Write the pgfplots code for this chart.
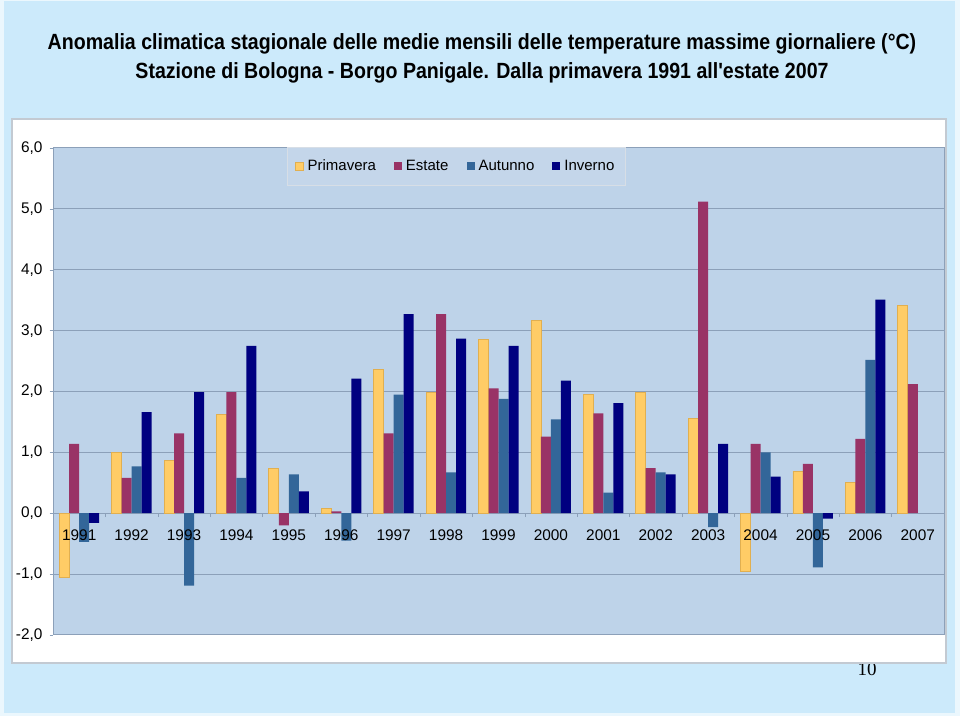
\documentclass[border=0pt]{standalone}
\usepackage{pgfplots}
\usepackage{pgfplotstable}
\pgfplotsset{compat=1.18}
\usepackage{fontspec}
\setmainfont{Liberation Sans}
\newfontfamily\titlefont[FakeStretch=0.89]{Liberation Sans}
\newfontfamily\pagefont{Liberation Serif}

\definecolor{outerbg}{RGB}{204,234,251}
\definecolor{plotbg}{RGB}{190,211,233}
\definecolor{gridc}{RGB}{140,160,185}
\definecolor{chartborder}{RGB}{195,202,210}
\definecolor{legendbg}{RGB}{196,214,234}
\definecolor{legendborder}{RGB}{215,222,230}
\definecolor{primc}{RGB}{255,204,102}
\definecolor{primborder}{RGB}{225,175,80}
\definecolor{estc}{RGB}{153,51,102}
\definecolor{autc}{RGB}{51,102,153}
\definecolor{invc}{RGB}{0,0,128}

\pgfplotsset{
  frame geom/.style={
    at={(26.5pt,40.5pt)}, anchor=south west,
    scale only axis, width=445.5pt, height=243.5pt,
    xmin=-0.5, xmax=16.5, ymin=-2, ymax=6,
  },
}

% anomalies, one row per year (0 = 1991)
\pgfplotstableread{
yr prim est aut inv
0 -1.05 1.14 -0.47 -0.16
1 1.00 0.58 0.77 1.66
2 0.86 1.31 -1.19 1.99
3 1.62 1.99 0.58 2.75
4 0.74 -0.20 0.64 0.36
5 0.08 0.03 -0.45 2.21
6 2.36 1.31 1.95 3.27
7 1.99 3.27 0.67 2.87
8 2.85 2.05 1.88 2.75
9 3.16 1.26 1.54 2.18
10 1.95 1.64 0.34 1.81
11 1.98 0.74 0.67 0.64
12 1.55 5.12 -0.23 1.14
13 -0.96 1.14 1.00 0.60
14 0.69 0.81 -0.89 -0.09
15 0.50 1.22 2.52 3.51
16 3.42 2.12 nan nan
}\datatable

\begin{document}
\begin{tikzpicture}
\path[use as bounding box] (0pt,0pt) rectangle (480pt,358pt);
\fill[white!60!outerbg] (0pt,0pt) rectangle (480pt,358pt);
\fill[outerbg] (2pt,1.5pt) rectangle (477.5pt,357.5pt);
\node[font=\pagefont\fontsize{9.5}{11}\selectfont] at (433.5pt,23.5pt) {10};
\filldraw[fill=white, draw=chartborder, line width=0.6pt] (6pt,26.5pt) rectangle (473pt,298.5pt);

\node[anchor=base, font=\titlefont\bfseries\fontsize{11}{13}\selectfont] at (241pt,333pt)
  {Anomalia climatica stagionale delle medie mensili delle temperature massime giornaliere (°C)};
\node[anchor=base, font=\titlefont\bfseries\fontsize{11}{13}\selectfont] at (241pt,318.5pt)
  {Stazione di Bologna - Borgo Panigale. Dalla primavera 1991 all'estate 2007};

\begin{axis}[
  frame geom,
  ybar=0pt, bar width=5pt,
  axis x line=middle, axis y line=left,
  axis line style={draw=gridc, line width=0.5pt, -},
  axis background/.style={fill=plotbg, draw=gridc, line width=0.5pt},
  ytick={-2,-1,...,6},
  xtick={0,...,16}, xticklabels={},
  minor xtick={-0.5,0.5,...,16.5},
  tick align=outside,
  major tick length=1.7pt, minor tick length=2pt,
  major x tick style={draw=none},
  minor x tick style={draw=gridc},
  ytick style={draw=gridc},
  ymajorgrids, grid style={draw=gridc, line width=0.5pt},
  tick label style={font=\fontsize{7.7}{9}\selectfont},
  /pgf/number format/assume math mode=true,
  y tick label style={/pgf/number format/fixed, /pgf/number format/fixed zerofill,
    /pgf/number format/precision=1, /pgf/number format/use comma},
  legend style={at={(0.453,1.002)}, anchor=north, legend columns=-1,
    draw=legendborder, fill=legendbg, font=\fontsize{7.5}{9}\selectfont,
    inner xsep=3.5pt, inner ysep=4pt,
    /tikz/every even column/.append style={column sep=7pt}},
  legend image code/.code={\path[#1] (0pt,-2pt) rectangle (4pt,2pt);},
]
\addplot[fill=primc, draw=primborder, line width=0.4pt] table[x=yr, y=prim] {\datatable};
\addplot[fill=estc, draw=none] table[x=yr, y=est] {\datatable};
\addplot[fill=autc, draw=none] table[x=yr, y=aut] {\datatable};
\addplot[fill=invc, draw=none] table[x=yr, y=inv] {\datatable};
\legend{Primavera,Estate,Autunno,Inverno}
\end{axis}

% year labels again, on top of the bars
\begin{axis}[
  frame geom,
  axis x line=middle, axis y line=none,
  x axis line style={draw=none},
  xtick={0,...,16},
  xticklabels={1991,1992,1993,1994,1995,1996,1997,1998,1999,2000,2001,2002,2003,2004,2005,2006,2007},
  tick align=outside, major tick length=1.7pt,
  major x tick style={draw=none},
  tick label style={font=\fontsize{7.7}{9}\selectfont},
  x tick label style={yshift=-3pt},
]
\addplot[draw=none] coordinates {(0,0)};
\end{axis}
\end{tikzpicture}
\end{document}
